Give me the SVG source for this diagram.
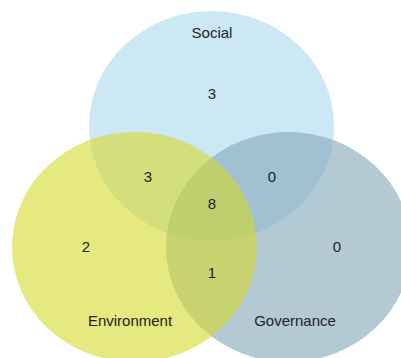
<svg xmlns="http://www.w3.org/2000/svg" width="401" height="358" viewBox="0 0 401 358">
<style>
.set{fill-opacity:0.6;stroke:none}
.t{font-family:"Liberation Sans",Arial,sans-serif;font-size:15px;fill:#222;text-anchor:middle}
</style>
<rect width="401" height="358" fill="#fff"/>
<g id="social"><ellipse class="set" cx="211.5" cy="126" rx="122.5" ry="115" fill="#aad9ee"/></g>
<g id="governance"><ellipse class="set" cx="288.5" cy="247" rx="122.5" ry="115" fill="#80a7b9"/></g>
<g id="environment"><ellipse class="set" cx="134.5" cy="247" rx="122.5" ry="115" fill="#d5d92b"/></g>
<g id="connectors"/>
<g id="labels">
<text class="t" x="212" y="38">Social</text>
<text class="t" x="130" y="326">Environment</text>
<text class="t" x="295" y="326">Governance</text>
<text class="t" x="212" y="99">3</text>
<text class="t" x="148" y="182">3</text>
<text class="t" x="272" y="182">0</text>
<text class="t" x="212" y="209">8</text>
<text class="t" x="86" y="252">2</text>
<text class="t" x="337" y="252">0</text>
<text class="t" x="212" y="278">1</text>
</g>
</svg>
